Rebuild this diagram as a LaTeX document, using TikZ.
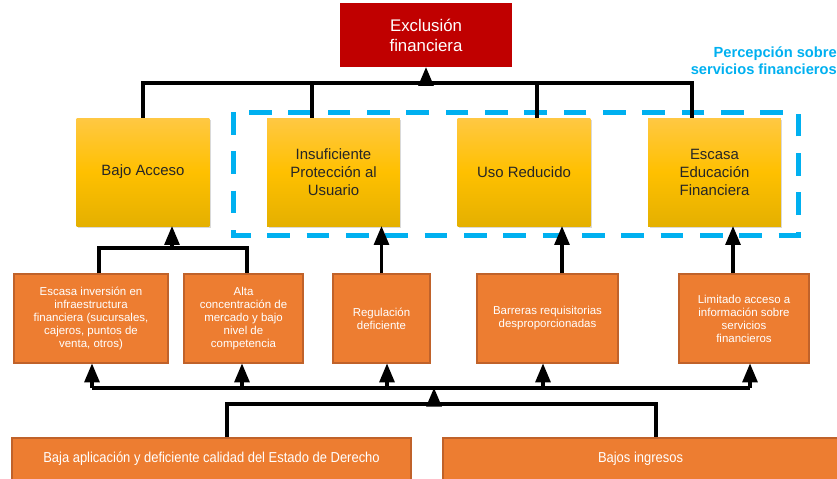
\documentclass[tikz,border=0pt]{standalone}
\usepackage{fontspec}
\setmainfont{Liberation Sans}
\newfontfamily\narrowsans[FakeStretch=0.9]{Liberation Sans}
\usetikzlibrary{arrows, shadows}

\definecolor{exclred}{HTML}{C00000}
\definecolor{boxorange}{HTML}{ED7D31}
\definecolor{edgeorange}{HTML}{C0622A}
\definecolor{goldtop}{HTML}{FFC843}
\definecolor{goldmid}{HTML}{FFC000}
\definecolor{goldbot}{HTML}{E4B000}
\definecolor{dashblue}{HTML}{00B0F0}

\tikzset{
  line/.style={black, line width=2.3pt},
  arr/.style={line, ->, >=triangle 45},
  redbox/.style={rectangle, fill=exclred, text=white, align=center, inner sep=0pt,
    minimum width=129pt, minimum height=48pt, font=\fontsize{12.6}{15}\selectfont},
  yellowbox/.style={rectangle, top color=goldtop, bottom color=goldbot, middle color=goldmid,
    text=black!85, align=center, minimum width=99.4pt, minimum height=81pt,
    font=\fontsize{11.2}{13.5}\selectfont,
    drop shadow={shadow xshift=1.2pt, shadow yshift=-1.2pt, opacity=0.3}},
  orangebox/.style={rectangle, fill=boxorange, draw=edgeorange, line width=1pt, text=white,
    align=center, inner sep=2pt, minimum height=66.75pt, font=\fontsize{8.6}{9.75}\selectfont},
  basebox/.style={rectangle, fill=boxorange, draw=edgeorange, line width=1pt, text=white,
    align=center, minimum height=31.5pt, font=\narrowsans\fontsize{10.8}{12}\selectfont},
  bluetext/.style={text=dashblue, align=right, inner sep=0pt, font=\bfseries\fontsize{11}{13}\selectfont},
  dashbox/.style={draw=dashblue, line width=3.75pt, dash pattern=on 17pt off 12.5pt}
}

\begin{document}
\begin{tikzpicture}[x=0.75pt, y=-0.75pt]
\useasboundingbox (0,0) rectangle (837,478);

% problema central
\node[redbox] (excl) at (426,35) {Exclusión\\financiera};
\node[bluetext, anchor=east] (percep) at (837,61) {Percepción sobre\\servicios financieros};

\draw[dashbox] (233,112) rectangle (798,235);

% causas directas
\node[yellowbox] (acceso) at (143,172) {Bajo Acceso};
\node[yellowbox] (proteccion) at (333.5,172) {Insuficiente\\Protección al\\Usuario};
\node[yellowbox] (uso) at (524,172) {Uso Reducido};
\node[yellowbox] (educacion) at (714.5,172) {Escasa\\Educación\\Financiera};

% causas indirectas
\node[orangebox, minimum width=115.5pt] (inversion) at (91,318.5) {Escasa inversión en\\infraestructura\\financiera (sucursales,\\cajeros, puntos de\\venta, otros)};
\node[orangebox, minimum width=89.25pt] (concentracion) at (243.5,318.5) {Alta\\concentración de\\mercado y bajo\\nivel de\\competencia};
\node[orangebox, minimum width=72.75pt] (regulacion) at (381.5,318.5) {Regulación\\deficiente};
\node[orangebox, minimum width=105.75pt] (barreras) at (547.5,318.5) {Barreras requisitorias\\desproporcionadas};
\node[orangebox, minimum width=97.5pt] (limitado) at (744,318.5) {Limitado acceso a\\información sobre\\servicios\\financieros};

% causas estructurales
\node[basebox, minimum width=299.25pt] (estado) at (211.5,459) {Baja aplicación y deficiente calidad del Estado de Derecho};
\node[basebox, minimum width=296.25pt] (ingresos) at (640.5,459) {Bajos ingresos};

% hacia el problema central
\coordinate (topbar) at (426,83);
\coordinate (t2) at ([shift={(-21.5,0)}]proteccion.north);
\coordinate (t3) at ([shift={(13,0)}]uso.north);
\coordinate (t4) at ([shift={(-22.5,0)}]educacion.north);
\draw[line] (acceso.north) |- (topbar) -| (t4);
\draw[line] (t2) -- (t2 |- topbar);
\draw[line] (t3) -- (t3 |- topbar);
\draw[arr] (topbar) -- (excl);

% desde causas indirectas
\coordinate (midbar) at (172,248);
\coordinate (i1) at ([shift={(8,0)}]inversion.north);
\coordinate (i2) at ([shift={(3.5,0)}]concentracion.north);
\coordinate (i4) at ([shift={(14.5,0)}]barreras.north);
\coordinate (i5) at ([shift={(-11,0)}]limitado.north);
\draw[line] (i1) |- (midbar) -| (i2);
\draw[arr] (midbar) -- (midbar |- acceso.south);
\draw[arr] (regulacion.north) -- (regulacion.north |- proteccion.south);
\draw[arr] (i4) -- (i4 |- uso.south);
\draw[arr] (i5) -- (i5 |- educacion.south);

% desde causas estructurales
\coordinate (lowbar) at (434,404);
\coordinate (rowbar) at (434,388);
\draw[line] ([shift={(15.5,0)}]estado.north) |- (lowbar) -| ([shift={(15.5,0)}]ingresos.north);
\draw[arr] (lowbar) -- (rowbar);
\foreach \nm/\dx in {inversion/1, concentracion/-1.5, regulacion/5.5, barreras/-4.5, limitado/6} {
  \coordinate (c-\nm) at ([shift={(\dx,0)}]\nm.south);
  \draw[arr] (c-\nm |- rowbar) -- (c-\nm);
}
\draw[line] (c-inversion |- rowbar) -- (c-limitado |- rowbar);
\end{tikzpicture}
\end{document}
